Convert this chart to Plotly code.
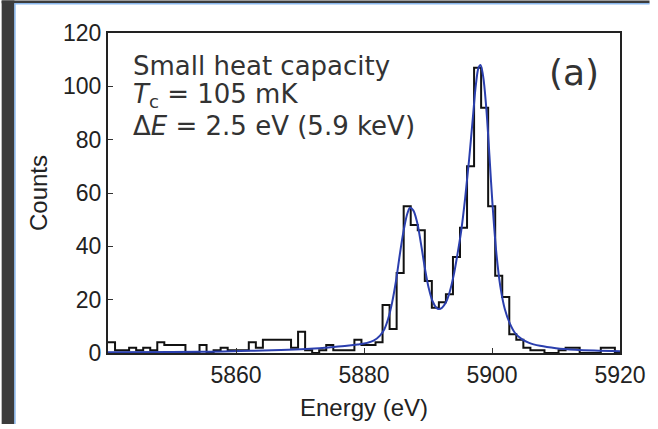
import plotly.graph_objects as go

# Histogram: 1.1 eV bins starting at 5840 eV
bin_start = 5840.0
bin_width = 1.1
counts = [4, 1, 1, 2, 1, 2, 1, 4, 3, 3,
          3, 0, 0, 3, 0, 1, 2, 1, 1, 1,
          4, 2, 5, 5, 5, 5, 2, 8, 1, 0,
          1, 3, 1, 1, 1, 5, 3, 3, 4, 18,
          9, 30, 55, 48, 46, 27, 17, 19, 22, 36,
          47, 70, 107, 92, 55, 29, 21, 7, 5, 2,
          1, 1, 0, 0, 1, 2, 2, 0, 0, 0,
          2, 2, 0]

# Fitted curve
fit_energy = [5840, 5850, 5856, 5862, 5867, 5871, 5874, 5877, 5879, 5880.5,
              5881.5, 5882.5, 5883.2, 5883.8, 5884.4, 5885.0, 5885.6, 5886.2, 5886.8, 5887.2,
              5887.7, 5888.3, 5888.9, 5889.5, 5890.1, 5890.7, 5891.3, 5891.7, 5892.2, 5892.8,
              5893.4, 5894.0, 5894.6, 5895.2, 5895.8, 5896.4, 5897.0, 5897.5, 5897.9, 5898.2,
              5898.6, 5899.1, 5899.6, 5900.1, 5900.7, 5901.3, 5902.0, 5902.8, 5903.6, 5904.6,
              5905.8, 5907.5, 5910, 5913, 5916, 5920]
fit_counts = [0.3, 0.35, 0.5, 0.8, 1.1, 1.5, 2.0, 2.6, 3.2, 3.8,
              4.6, 6.5, 9, 13, 19, 27, 37, 46, 52.5, 54.5,
              53.5, 49, 41, 32, 24.5, 19.5, 17, 16.5, 17, 19,
              23, 29, 37, 46, 58, 72, 88, 101, 107, 108,
              104, 92, 74, 55, 37, 25, 16.5, 11, 7.5, 5.3,
              3.8, 2.7, 1.8, 1.2, 0.9, 0.7]

x_ticks = [5860, 5880, 5900, 5920]
y_ticks = [0, 20, 40, 60, 80, 100, 120]

edges = [bin_start + bin_width * k for k in range(len(counts) + 1)]
step_y = counts + [counts[-1]]

fig = go.Figure()
fig.add_trace(go.Scatter(x=edges, y=step_y, mode="lines", line_shape="hv",
                         line=dict(color="#111111", width=2), hoverinfo="skip"))
fig.add_trace(go.Scatter(x=fit_energy, y=fit_counts, mode="lines", line_shape="spline",
                         line=dict(color="#2b3fae", width=2), hoverinfo="skip"))

tickfont = dict(family="Liberation Sans, Arial, sans-serif", size=23, color="#222222")
fig.update_xaxes(range=[5840, 5920], tickvals=x_ticks, ticks="inside", ticklen=5,
                 tickcolor="#333", showline=True, linecolor="#222", linewidth=2, mirror=True,
                 showgrid=False, zeroline=False, tickfont=tickfont,
                 title=dict(text="Energy (eV)", font=dict(family="Liberation Sans, Arial, sans-serif",
                                                          size=24, color="#222"), standoff=13))
fig.update_yaxes(range=[0, 120], tickvals=y_ticks, ticks="inside", ticklen=5,
                 tickcolor="#333", showline=True, linecolor="#222", linewidth=2, mirror=True,
                 showgrid=False, zeroline=False, tickfont=tickfont,
                 title=dict(text="Counts", font=dict(family="Liberation Sans, Arial, sans-serif",
                                                     size=24, color="#222"), standoff=9))

afont = dict(family="DejaVu Sans, Verdana, sans-serif", size=26, color="#333333")
ann = [
    ("Small heat capacity", 131, 66),
    ("<i>T</i><sub>c</sub> = 105 mK", 131, 96),
    ("Δ<i>E</i> = 2.5 eV (5.9 keV)", 131, 127),
]
for text, xpix, ypix in ann:
    fig.add_annotation(text=text, xref="paper", yref="paper", x=(xpix - 108) / 520,
                       y=(357 - ypix) / 324, xanchor="left", yanchor="middle",
                       showarrow=False, font=afont)
fig.add_annotation(text="(a)", xref="paper", yref="paper", x=(581 - 108) / 520,
                   y=(357 - 73) / 324, xanchor="center", yanchor="middle",
                   showarrow=False, font=dict(family="DejaVu Sans, Verdana, sans-serif",
                                              size=36, color="#333333"))

# slide frame decoration (dark strip with light blue edge); page pixel -> paper coords
W, H = 520.0, 324.0
def px_x(p):
    return (p - 108) / W
def px_y(p):
    return (357 - p) / H
fig.add_shape(type="rect", xref="paper", yref="paper", x0=px_x(0), x1=px_x(13),
              y0=px_y(429), y1=px_y(0), fillcolor="#3c3c3c", line_width=0, layer="below")
fig.add_shape(type="rect", xref="paper", yref="paper", x0=px_x(0), x1=px_x(658),
              y0=px_y(3), y1=px_y(0), fillcolor="#3c3c3c", line_width=0, layer="below")
fig.add_shape(type="line", xref="paper", yref="paper", x0=px_x(13.5), x1=px_x(13.5),
              y0=px_y(429), y1=px_y(3), line=dict(color="#8ab8ee", width=1.5))
fig.add_shape(type="line", xref="paper", yref="paper", x0=px_x(13.5), x1=px_x(658),
              y0=px_y(3.5), y1=px_y(3.5), line=dict(color="#8ab8ee", width=1.5))

fig.update_layout(width=658, height=429, autosize=False,
                  margin=dict(l=108, r=30, t=33, b=72),
                  paper_bgcolor="white", plot_bgcolor="white", showlegend=False)

# place the figure at the page's top-left corner (no default body margin)
fig.write_html("out.html", config={"displayModeBar": False, "staticPlot": True},
               post_script="document.body.style.margin='0';"
                           "var g=document.querySelector('.plotly-graph-div');"
                           "g.style.position='fixed';g.style.left='0px';g.style.top='0px';")
